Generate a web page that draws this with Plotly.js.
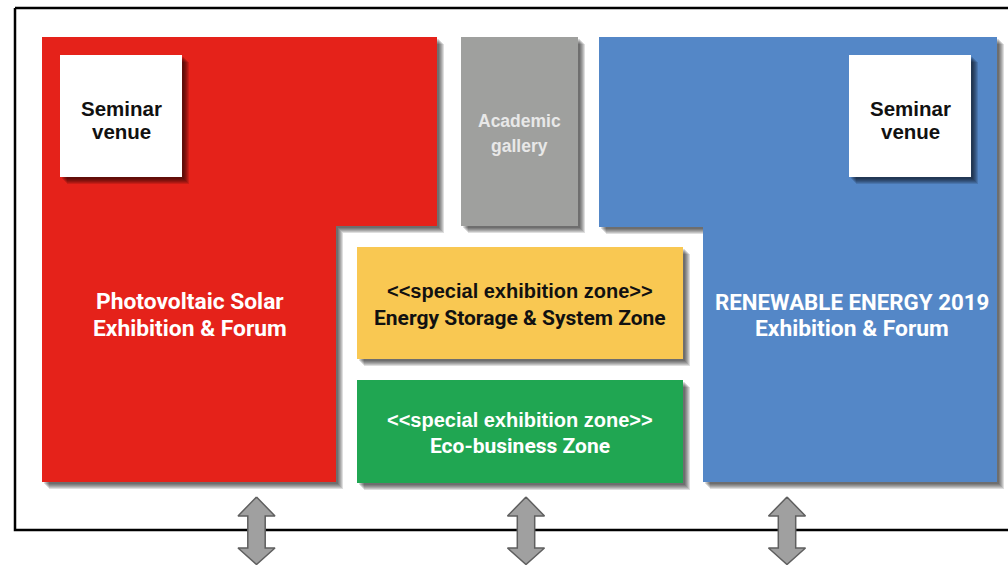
<!DOCTYPE html>
<html><head><meta charset="utf-8">
<script src="https://cdn.plot.ly/plotly-3.0.1.min.js"></script>
<style>html,body{margin:0;padding:0;background:#fff;overflow:hidden}#chart{width:1008px;height:565px}</style>
</head><body><div id="chart"></div>
<script>
// ---- floor-plan data (plan units) ----
const zoneNames  = ["Photovoltaic Solar", "Academic gallery", "Renewable Energy", "Energy Storage", "Eco-business"];
const zoneX = [[42,437,437,336,336,42],[461,578,578,461],[599,997,997,703,703,599],[357,683,683,357],[357,683,683,357]];
const zoneY = [[37,37,226,226,482,482],[37,37,226,226],[37,37,482,482,227,227],[247,247,359,359],[380,380,483,483]];
const zoneColors = ["#e5221a","#9fa09e","#5487c7","#f9c852","#20a652"];
const seminarX = [[60,182,182,60],[849,971,971,849]];
const seminarY = [[55,55,177,177],[55,55,177,177]];
const hallX = [15,1015,1015,15,15];
const hallY = [8,8,530,530,8];
const gateX = [256.5, 526, 787];

const redLabel     = ["Photovoltaic Solar","Exhibition &amp; Forum"];
const blueLabel    = ["RENEWABLE ENERGY 2019","Exhibition &amp; Forum"];
const seminarLabel = ["Seminar","venue"];
const galleryLabel = ["Academic","gallery"];
const zoneTag      = "&lt;&lt;special exhibition zone&gt;&gt;";
const storageLabel = "Energy Storage &amp; System Zone";
const ecoLabel     = "Eco-business Zone";

// ---- build ----
const traces = [];
function poly(xs, ys, fill, lineColor, lineWidth){
  traces.push({type:"scatter", mode:"lines", x:xs.concat([xs[0]]), y:ys.concat([ys[0]]),
    fill:"toself", fillcolor:fill, line:{color:lineColor||fill, width:lineWidth||0},
    hoverinfo:"skip", showlegend:false});
}
function shadow(xs, ys){
  for (let d=2; d<=7; d++) poly(xs.map(v=>v+d), ys.map(v=>v+d), "rgba(0,0,0,0.13)", "rgba(0,0,0,0)", 0);
}
traces.push({type:"scatter", mode:"lines", x:hallX, y:hallY, line:{color:"#000", width:2.5}, hoverinfo:"skip", showlegend:false});
zoneX.forEach((xs,i)=>shadow(xs, zoneY[i]));
zoneX.forEach((xs,i)=>poly(xs, zoneY[i], zoneColors[i]));
seminarX.forEach((xs,i)=>shadow(xs, seminarY[i]));
seminarX.forEach((xs,i)=>poly(xs, seminarY[i], "#ffffff"));
gateX.forEach(cx=>{
  const hw=18.5, sw=8.7, top=497, hb=516, sb=548, bot=564.5;
  poly([cx,cx+hw,cx+sw,cx+sw,cx+hw,cx,cx-hw,cx-sw,cx-sw,cx-hw],
       [top,hb,hb,sb,sb,bot,sb,sb,hb,hb], "#a0a0a0", "#5f5f5f", 1.5);
});

const narrow = "Roboto, Liberation Sans, sans-serif";
const sans = "Liberation Sans, Arial, Helvetica, sans-serif";
const ann = [];
function txt(t, x, y, size, color, family){
  ann.push({text:t, x:x, y:y, xref:"x", yref:"y", showarrow:false, xanchor:"center", yanchor:"middle",
    font:{family:family, size:size, color:color, weight:"bold"}});
}
txt(redLabel[0], 190, 301.5, 22.8, "#ffffff", narrow);
txt(redLabel[1], 190, 328, 22.8, "#ffffff", narrow);
txt(blueLabel[0], 851.5, 301.5, 22.3, "#ffffff", narrow);
txt(blueLabel[1], 851.5, 328, 22.8, "#ffffff", narrow);
[121, 910].forEach(cx=>{
  txt(seminarLabel[0], cx, 108, 20.5, "#111111", sans);
  txt(seminarLabel[1], cx, 131.3, 20.5, "#111111", sans);
});
txt(galleryLabel[0], 519.5, 121.2, 17.5, "#e8e8e8", sans);
txt(galleryLabel[1], 519.5, 145.6, 17.5, "#e8e8e8", sans);
txt(zoneTag, 520, 291, 20, "#111111", sans);
txt(storageLabel, 520, 317.8, 21, "#111111", narrow);
txt(zoneTag, 520, 420, 20, "#ffffff", sans);
txt(ecoLabel, 520, 446, 21, "#ffffff", narrow);

const layout = {
  width:1008, height:565, margin:{l:0,r:0,t:0,b:0},
  paper_bgcolor:"#ffffff", plot_bgcolor:"#ffffff",
  xaxis:{range:[0,1008], visible:false, fixedrange:true},
  yaxis:{range:[565,0], visible:false, fixedrange:true},
  annotations:ann, showlegend:false
};
Plotly.newPlot("chart", traces, layout, {staticPlot:true, displayModeBar:false});
</script></body></html>
